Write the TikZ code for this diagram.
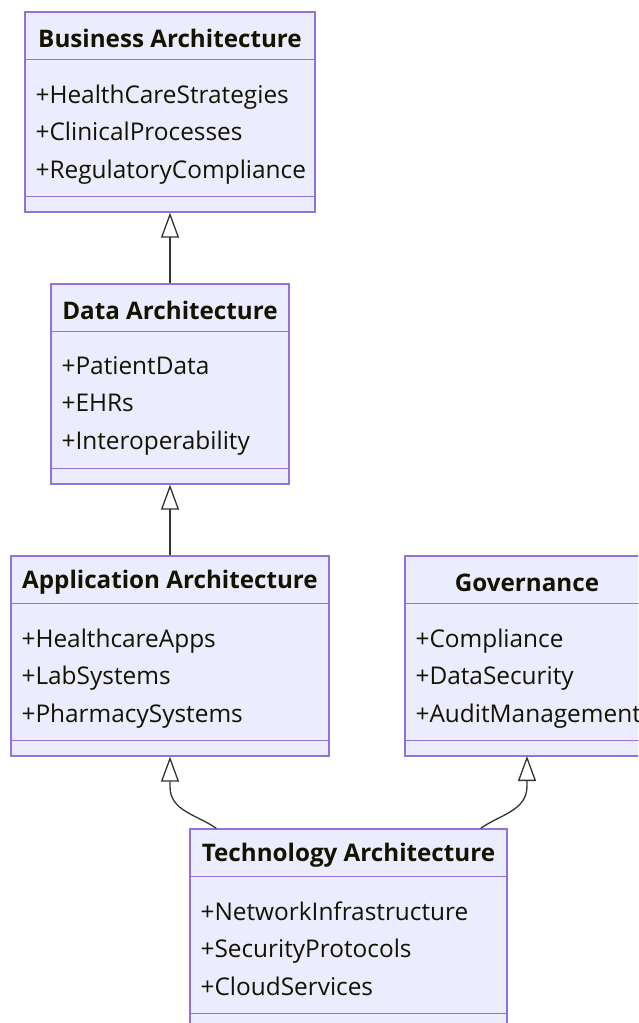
\documentclass[tikz,border=0pt]{standalone}
\usepackage{fontspec}
\setmainfont{Open Sans}
\usetikzlibrary{arrows.meta,positioning,calc}
\definecolor{clsfill}{HTML}{ECECFF}
\definecolor{clsline}{HTML}{9370DB}
\definecolor{clstext}{HTML}{131300}
\definecolor{relline}{HTML}{333333}

\begin{document}
\begin{tikzpicture}[
	x=1pt, y=-1pt,
	cls/.style={
		draw=clsline,
		fill=clsfill,
		line width=1.3pt,
		minimum height=200pt,
		inner sep=0pt
	},
	title/.style={
		font=\fontsize{24.2}{29}\selectfont\bfseries,
		text=clstext,
		inner sep=0pt
	},
	attrs/.style={
		font=\fontsize{24.4}{37.5}\selectfont,
		text=clstext,
		align=left,
		anchor=north west,
		inner sep=0pt
	},
	inh/.style={
		draw=relline,
		line width=1.3pt,
		-{Triangle[open,width=18pt,length=25pt]}
	}
	]
	
	\useasboundingbox (0,0) rectangle (638,1023);
	\clip (0,0) rectangle (638,1023);
	\fill[white] (0,0) rectangle (638,1023);
	
	% class boxes
	\node[cls,minimum width=290pt] (bus) at (170,112) {};
	\node[cls,minimum width=238pt] (dat) at (170,384) {};
	\node[cls,minimum width=318pt] (app) at (170,656) {};
	\node[cls,minimum width=250pt] (gov) at (530,656) {};
	\node[cls,minimum width=317pt] (tec) at (348.5,929) {};
	
	% compartments
	\foreach \c in {bus,dat,app,gov,tec} {
		\draw[clsline,line width=1.3pt] ($(\c.north west)+(0,48)$) -- ($(\c.north east)+(0,48)$);
		\draw[clsline,line width=1.3pt] ($(\c.south west)+(0,-16)$) -- ($(\c.south east)+(0,-16)$);
	}
	
	% titles
	\node[title] (busT) at ($(bus.north)+(0,27)$) {Business Architecture};
	\node[title] (datT) at ($(dat.north)+(0,27)$) {Data Architecture};
	\node[title] (appT) at ($(app.north)+(0,27)$) {Application Architecture};
	\node[title] (govT) at (527,583) {Governance};
	\node[title] (tecT) at ($(tec.north)+(0,27)$) {Technology Architecture};
	
	% members
	\node[attrs] (busA) at ($(bus.north west)+(11,73)$)
	{+HealthCareStrategies\\+ClinicalProcesses\\+RegulatoryCompliance};
	\node[attrs] (datA) at ($(dat.north west)+(11,73)$)
	{+PatientData\\+EHRs\\+Interoperability};
	\node[attrs] (appA) at ($(app.north west)+(11,73)$)
	{+HealthcareApps\\+LabSystems\\+PharmacySystems};
	\node[attrs] (govA) at ($(gov.north west)+(11,73)$)
	{+Compliance\\+DataSecurity\\+AuditManagement};
	\node[attrs] (tecA) at ($(tec.north west)+(11,73)$)
	{+NetworkInfrastructure\\+SecurityProtocols\\+CloudServices};
	
	% inheritance
	\draw[inh] (dat.north) -- (bus.south);
	\draw[inh] (app.north) -- (dat.south);
	\draw[inh] ($(tec.north west)+(27,0)$) to[out=145,in=-90] ($(app.south)+(0,30)$) -- (app.south);
	\draw[inh] ($(tec.north east)+(-27,0)$) to[out=35,in=-90] (527,786) -- (527,756);
	
\end{tikzpicture}
\end{document}
